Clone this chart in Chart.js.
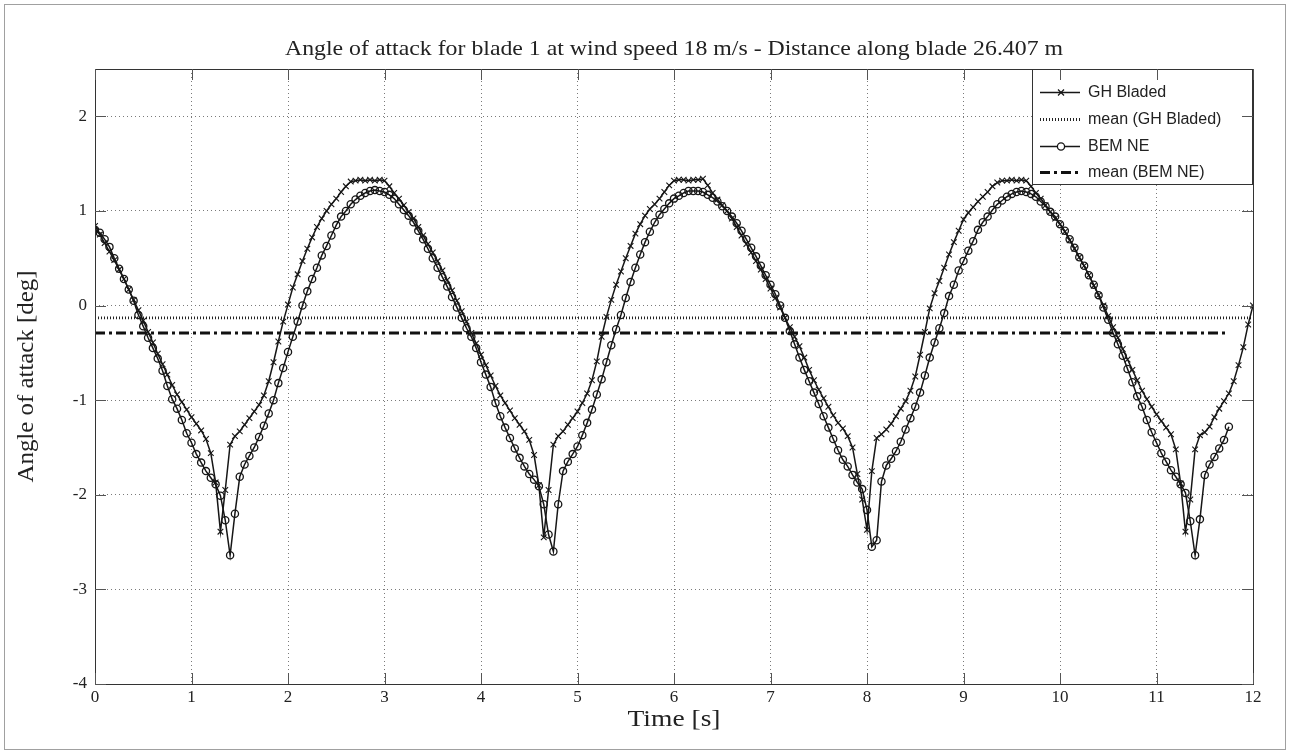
<!DOCTYPE html>
<html>
<head>
<meta charset="utf-8">
<script src="https://cdn.jsdelivr.net/npm/chart.js@4.4.0/dist/chart.umd.min.js"></script>
<style>
  html, body { margin: 0; padding: 0; background: #fff; }
  #wrap { width: 1290px; height: 754px; }
</style>
</head>
<body>
<div id="wrap"><canvas id="grafico" width="1290" height="754"></canvas></div>
<script>
// amostragem das series (s)
const passo = 0.05;

// GH Bladed, angulo de ataque [deg], t = 0 .. 12 s
const ghAoA = [
  0.84, 0.75, 0.66, 0.57, 0.48, 0.38, 0.28, 0.17, 0.06, -0.05, -0.16, -0.28, -0.39, -0.51, -0.62, -0.73, -0.84, -0.94, -1.02, -1.10,
  -1.18, -1.25, -1.32, -1.41, -1.56, -1.87, -2.39, -1.95, -1.47, -1.38, -1.33, -1.26, -1.19, -1.12, -1.05, -0.95, -0.80, -0.60, -0.38, -0.17,
  0.01, 0.19, 0.33, 0.47, 0.60, 0.72, 0.83, 0.92, 1.00, 1.07, 1.13, 1.20, 1.26, 1.31, 1.32, 1.33, 1.32, 1.33, 1.32, 1.33,
  1.32, 1.26, 1.19, 1.13, 1.06, 0.99, 0.92, 0.83, 0.74, 0.65, 0.56, 0.47, 0.37, 0.27, 0.16, 0.05, -0.06, -0.17, -0.29, -0.40,
  -0.52, -0.63, -0.74, -0.85, -0.95, -1.03, -1.11, -1.19, -1.26, -1.33, -1.42, -1.58, -1.90, -2.45, -1.95, -1.47, -1.38, -1.33, -1.26, -1.19,
  -1.12, -1.03, -0.93, -0.79, -0.59, -0.33, -0.12, 0.06, 0.22, 0.36, 0.50, 0.63, 0.76, 0.86, 0.95, 1.02, 1.07, 1.13, 1.20, 1.27,
  1.32, 1.33, 1.33, 1.32, 1.33, 1.33, 1.34, 1.27, 1.19, 1.12, 1.06, 1.00, 0.92, 0.83, 0.74, 0.65, 0.56, 0.47, 0.38, 0.28,
  0.18, 0.08, -0.02, -0.13, -0.23, -0.33, -0.43, -0.55, -0.68, -0.79, -0.89, -0.98, -1.07, -1.16, -1.24, -1.30, -1.38, -1.50, -1.78, -2.05,
  -2.37, -1.75, -1.40, -1.36, -1.31, -1.25, -1.17, -1.09, -1.01, -0.90, -0.75, -0.52, -0.28, -0.03, 0.13, 0.26, 0.40, 0.54, 0.67, 0.79,
  0.91, 0.98, 1.04, 1.10, 1.15, 1.20, 1.26, 1.30, 1.32, 1.32, 1.33, 1.32, 1.33, 1.32, 1.26, 1.19, 1.13, 1.06, 0.99, 0.92,
  0.86, 0.78, 0.69, 0.60, 0.51, 0.42, 0.32, 0.21, 0.11, 0.00, -0.11, -0.23, -0.34, -0.46, -0.57, -0.68, -0.79, -0.90, -0.99, -1.07,
  -1.15, -1.22, -1.29, -1.36, -1.52, -1.88, -2.39, -2.05, -1.52, -1.37, -1.34, -1.28, -1.18, -1.09, -1.01, -0.93, -0.80, -0.63, -0.44, -0.20,
  0.00
];

// BEM NE, angulo de ataque [deg], t = 0 .. 11.75 s
const bemAoA = [
  0.80, 0.77, 0.70, 0.62, 0.50, 0.39, 0.28, 0.17, 0.05, -0.10, -0.22, -0.34, -0.45, -0.56, -0.69, -0.85, -0.99, -1.09, -1.21, -1.35,
  -1.45, -1.57, -1.66, -1.75, -1.82, -1.89, -2.01, -2.27, -2.64, -2.20, -1.81, -1.68, -1.59, -1.50, -1.39, -1.27, -1.14, -1.00, -0.82, -0.66,
  -0.49, -0.33, -0.17, 0.00, 0.15, 0.28, 0.40, 0.53, 0.63, 0.74, 0.85, 0.94, 1.00, 1.07, 1.12, 1.16, 1.19, 1.21, 1.22, 1.21,
  1.20, 1.17, 1.13, 1.07, 1.01, 0.95, 0.88, 0.79, 0.70, 0.60, 0.50, 0.40, 0.30, 0.20, 0.09, -0.02, -0.13, -0.24, -0.33, -0.45,
  -0.60, -0.73, -0.86, -1.03, -1.17, -1.29, -1.40, -1.51, -1.61, -1.70, -1.78, -1.84, -1.91, -2.10, -2.42, -2.60, -2.10, -1.75, -1.65, -1.57,
  -1.49, -1.37, -1.24, -1.10, -0.94, -0.78, -0.60, -0.42, -0.25, -0.10, 0.08, 0.25, 0.40, 0.54, 0.67, 0.78, 0.88, 0.96, 1.02, 1.08,
  1.13, 1.16, 1.19, 1.21, 1.21, 1.21, 1.20, 1.17, 1.14, 1.10, 1.05, 1.00, 0.94, 0.87, 0.79, 0.70, 0.61, 0.52, 0.42, 0.32,
  0.22, 0.12, 0.00, -0.13, -0.27, -0.41, -0.55, -0.68, -0.80, -0.92, -1.04, -1.17, -1.29, -1.41, -1.53, -1.63, -1.70, -1.79, -1.87, -1.94,
  -2.16, -2.55, -2.48, -1.86, -1.69, -1.62, -1.54, -1.44, -1.31, -1.19, -1.07, -0.92, -0.74, -0.55, -0.39, -0.24, -0.08, 0.10, 0.22, 0.37,
  0.47, 0.58, 0.68, 0.80, 0.88, 0.94, 1.01, 1.07, 1.11, 1.15, 1.18, 1.20, 1.21, 1.20, 1.18, 1.15, 1.10, 1.05, 0.99, 0.94,
  0.86, 0.79, 0.70, 0.61, 0.51, 0.42, 0.32, 0.22, 0.11, -0.02, -0.15, -0.29, -0.41, -0.53, -0.67, -0.81, -0.96, -1.07, -1.21, -1.34,
  -1.45, -1.56, -1.65, -1.74, -1.81, -1.89, -1.98, -2.28, -2.64, -2.26, -1.79, -1.68, -1.60, -1.51, -1.42, -1.28
];

const mediaGH = -0.13;
const mediaBEM = -0.29;

const xTicks = [0, 1, 2, 3, 4, 5, 6, 7, 8, 9, 10, 11, 12];
const yTicks = [-4, -3, -2, -1, 0, 1, 2];

const legendas = ['GH Bladed', 'mean (GH Bladed)', 'BEM NE', 'mean (BEM NE)'];
const titulo = 'Angle of attack for blade 1 at wind speed 18 m/s - Distance along blade 26.407 m';
const tituloX = 'Time [s]';
const tituloY = 'Angle of attack [deg]';

const serif = '"Liberation Serif", "DejaVu Serif", serif';
const sans = '"Liberation Sans", Arial, sans-serif';

const ghPontos = ghAoA.map((v, i) => ({ x: i * passo, y: v }));
const bemPontos = bemAoA.map((v, i) => ({ x: i * passo, y: v }));
const tFimGH = (ghAoA.length - 1) * passo;
const tFimBEM = (bemAoA.length - 1) * passo;

const corLinha = '#161616';

function linha(ctx, x1, y1, x2, y2) {
  ctx.beginPath();
  ctx.moveTo(x1, y1);
  ctx.lineTo(x2, y2);
  ctx.stroke();
}

// escreve o texto centrado e ajustado a uma largura
function textoLargura(ctx, txt, x, y, largura) {
  const w = ctx.measureText(txt).width;
  ctx.save();
  ctx.translate(x, y);
  ctx.scale(largura / w, 1);
  ctx.fillText(txt, 0, 0);
  ctx.restore();
}

const moldura = {
  id: 'moldura',
  beforeDraw(chart) {
    const ctx = chart.ctx;
    ctx.save();
    ctx.fillStyle = '#fff';
    ctx.fillRect(0, 0, chart.width, chart.height);
    ctx.restore();
  },
  afterDraw(chart) {
    const { ctx, chartArea: a, scales: { x, y } } = chart;
    ctx.save();

    // legenda
    const caixa = { left: 1032, top: 69, right: 1252, bottom: 184 };
    ctx.fillStyle = '#fff';
    ctx.fillRect(caixa.left, caixa.top, caixa.right - caixa.left, caixa.bottom - caixa.top);
    ctx.strokeStyle = '#333';
    ctx.lineWidth = 1;
    ctx.strokeRect(caixa.left + 0.5, caixa.top + 0.5, caixa.right - caixa.left, caixa.bottom - caixa.top);

    const linhasY = [92, 119, 146, 172];
    const x1 = 1040, x2 = 1080, xm = 1061;
    chart.data.datasets.forEach((ds, i) => {
      const yy = linhasY[i] + 0.5;
      ctx.strokeStyle = ds.borderColor;
      ctx.lineWidth = ds.borderWidth;
      ctx.setLineDash(ds.borderDash || []);
      linha(ctx, x1, yy, x2, yy);
      ctx.setLineDash([]);
      ctx.lineWidth = 1.3;
      if (ds.pointStyle === 'crossRot' && ds.pointRadius > 0) {
        linha(ctx, xm - 3, yy - 3, xm + 3, yy + 3);
        linha(ctx, xm - 3, yy + 3, xm + 3, yy - 3);
      } else if (ds.pointStyle === 'circle' && ds.pointRadius > 0) {
        ctx.fillStyle = '#fff';
        ctx.beginPath();
        ctx.arc(xm, yy, 3.6, 0, Math.PI * 2);
        ctx.fill();
        ctx.stroke();
      }
      ctx.fillStyle = '#222';
      ctx.font = '16px ' + sans;
      ctx.textAlign = 'left';
      ctx.textBaseline = 'middle';
      ctx.fillText(ds.label, 1088, yy);
    });

    // caixa dos eixos
    ctx.strokeStyle = '#333';
    ctx.lineWidth = 1;
    ctx.strokeRect(Math.round(a.left) + 0.5, Math.round(a.top) + 0.5,
      Math.round(a.right - a.left), Math.round(a.bottom - a.top));

    // marcas para dentro (estilo matlab)
    ctx.strokeStyle = '#555';
    xTicks.forEach(v => {
      const px = Math.round(x.getPixelForValue(v)) + 0.5;
      linha(ctx, px, a.bottom, px, a.bottom - 11);
      linha(ctx, px, a.top, px, a.top + 11);
    });
    yTicks.forEach(v => {
      const py = Math.round(y.getPixelForValue(v)) + 0.5;
      linha(ctx, a.left, py, a.left + 11, py);
      linha(ctx, a.right, py, a.right - 11, py);
    });

    // borda da figura
    ctx.strokeStyle = '#a0a0a0';
    ctx.strokeRect(4.5, 4.5, 1281, 745);

    // textos
    ctx.fillStyle = '#222';
    ctx.textAlign = 'center';
    ctx.textBaseline = 'alphabetic';
    ctx.font = '21px ' + serif;
    textoLargura(ctx, titulo, (a.left + a.right) / 2, 55, 778);
    ctx.font = '23px ' + serif;
    textoLargura(ctx, tituloX, (a.left + a.right) / 2, 726, 93);
    ctx.save();
    ctx.translate(33, (a.top + a.bottom) / 2);
    ctx.rotate(-Math.PI / 2);
    textoLargura(ctx, tituloY, 0, 0, 212);
    ctx.restore();

    ctx.restore();
  }
};

const ctx = document.getElementById('grafico').getContext('2d');

new Chart(ctx, {
  type: 'line',
  data: {
    datasets: [
      {
        label: legendas[0],
        data: ghPontos,
        borderColor: corLinha,
        borderWidth: 1.5,
        pointStyle: 'crossRot',
        pointRadius: 4,
        pointBorderWidth: 1.1,
        pointBorderColor: corLinha,
        pointBackgroundColor: corLinha,
        tension: 0,
        order: 1,
      },
      {
        label: legendas[1],
        data: [{ x: 0, y: mediaGH }, { x: tFimGH, y: mediaGH }],
        borderColor: '#222',
        borderWidth: 2.8,
        borderDash: [1, 2],
        pointRadius: 0,
        order: 3,
      },
      {
        label: legendas[2],
        data: bemPontos,
        borderColor: corLinha,
        borderWidth: 1.5,
        pointStyle: 'circle',
        pointRadius: 3.6,
        pointBorderWidth: 1.3,
        pointBorderColor: corLinha,
        pointBackgroundColor: 'rgba(255,255,255,0)',
        tension: 0,
        order: 2,
      },
      {
        label: legendas[3],
        data: [{ x: 0, y: mediaBEM }, { x: tFimBEM, y: mediaBEM }],
        borderColor: '#111',
        borderWidth: 3.2,
        borderDash: [10, 4, 3, 4],
        pointRadius: 0,
        order: 4,
      },
    ],
  },
  options: {
    responsive: false,
    animation: false,
    devicePixelRatio: 1,
    layout: { padding: { left: 0, right: 37, top: 69, bottom: 0 } },
    plugins: {
      legend: { display: false },
      tooltip: { enabled: false },
      title: { display: false },
    },
    scales: {
      x: {
        type: 'linear',
        min: 0,
        max: 12,
        afterFit: s => { s.height = 70; },
        afterBuildTicks: s => { s.ticks = xTicks.map(v => ({ value: v })); },
        grid: { color: '#7a7a7a', lineWidth: 1, drawTicks: false },
        border: { display: false, dash: [1, 3] },
        ticks: {
          padding: 3,
          color: '#222',
          font: { family: serif, size: 17 },
          maxRotation: 0,
        },
      },
      y: {
        type: 'linear',
        min: -4,
        max: 2.5,
        afterFit: s => { s.width = 95; },
        afterBuildTicks: s => { s.ticks = yTicks.map(v => ({ value: v })); },
        grid: { color: '#7a7a7a', lineWidth: 1, drawTicks: false },
        border: { display: false, dash: [1, 3] },
        ticks: {
          padding: 8,
          color: '#222',
          font: { family: serif, size: 17 },
        },
      },
    },
  },
  plugins: [moldura],
});
</script>
</body>
</html>
